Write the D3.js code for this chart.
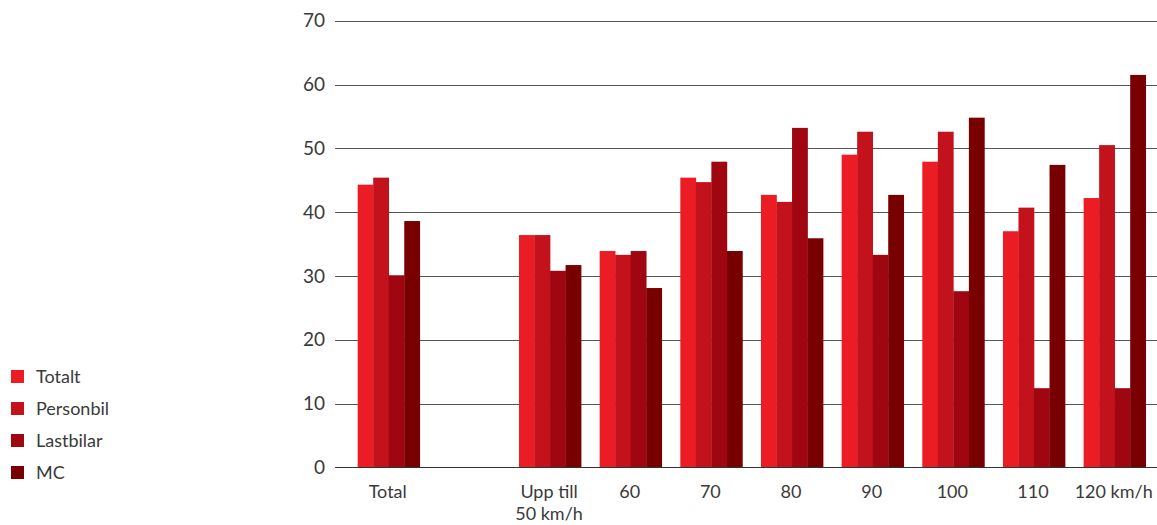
<!DOCTYPE html>
<html>
<head>
<meta charset="utf-8">
<script src="https://cdn.jsdelivr.net/npm/d3@7"></script>
<style>
  html, body { margin: 0; padding: 0; background: #fff; }
  svg text { font-family: Lato, "Open Sans", sans-serif; font-weight: 400; fill: #3a3a3a; }
</style>
</head>
<body>
<svg id="chart" width="1157" height="525"></svg>
<script>
// Categories (an empty slot separates the overall total from the speed limits)
const categories = ["Total", "", "Upp till\n50 km/h", "60", "70", "80", "90", "100", "110", "120 km/h"];
const seriesNames = ["Totalt", "Personbil", "Lastbilar", "MC"];
const colors = ["#ec1c24", "#c4121c", "#a00610", "#780000"];

// Values per series, one entry per category (null = no bar)
const totalt    = [44.3, null, 36.4, 33.9, 45.4, 42.7, 49.0, 47.9, 37.0, 42.2];
const personbil = [45.4, null, 36.4, 33.3, 44.7, 41.6, 52.6, 52.6, 40.7, 50.5];
const lastbilar = [30.1, null, 30.8, 33.9, 47.9, 53.2, 33.3, 27.6, 12.4, 12.4];
const mc        = [38.6, null, 31.7, 28.1, 33.9, 35.9, 42.7, 54.8, 47.4, 61.5];
const yTicks = [0, 10, 20, 30, 40, 50, 60, 70];

const series = [totalt, personbil, lastbilar, mc];

const svg = d3.select("#chart");

const y = d3.scaleLinear().domain([0, 70]).range([467.3, 20.7]);
const x = d3.scaleBand().domain(d3.range(categories.length))
  .range([348.4, 1155]).paddingInner(0.23).paddingOuter(0.115);
const xs = d3.scaleBand().domain(d3.range(seriesNames.length))
  .range([0, x.bandwidth()]);

// Horizontal gridlines
svg.append("g").selectAll("line").data(yTicks.filter(t => t > 0)).join("line")
  .attr("x1", 335).attr("x2", 1157)
  .attr("y1", d => Math.round(y(d)) + 0.5).attr("y2", d => Math.round(y(d)) + 0.5)
  .attr("stroke", "#555").attr("stroke-width", 1.2);

// Y tick labels
svg.append("g").selectAll("text").data(yTicks).join("text")
  .attr("x", 325).attr("y", d => y(d))
  .attr("dy", "0.35em")
  .attr("text-anchor", "end")
  .style("font-size", "19px")
  .text(d => d);

// Bars
const groups = svg.append("g").selectAll("g").data(series).join("g")
  .attr("fill", (d, i) => colors[i]);
groups.each(function(vals, si) {
  d3.select(this).selectAll("rect")
    .data(vals.map((v, ci) => ({ v, ci })).filter(d => d.v != null))
    .join("rect")
    .attr("x", d => x(d.ci) + xs(si))
    .attr("width", xs.bandwidth() + 0.3)
    .attr("y", d => y(d.v))
    .attr("height", d => y(0) - y(d.v));
});

// Baseline
svg.append("line")
  .attr("x1", 335).attr("x2", 1157)
  .attr("y1", Math.round(y(0)) + 0.5).attr("y2", Math.round(y(0)) + 0.5)
  .attr("stroke", "#333").attr("stroke-width", 1.2);

// Category labels
const catLabels = svg.append("g").selectAll("text").data(categories).join("text")
  .attr("x", (d, i) => x(i) + x.bandwidth() / 2)
  .attr("y", 498)
  .attr("text-anchor", "middle")
  .style("font-size", "18px");
catLabels.each(function(d) {
  const lines = d.split("\n");
  d3.select(this).selectAll("tspan").data(lines).join("tspan")
    .attr("x", d3.select(this).attr("x") - 1)
    .attr("dy", (l, i) => i === 0 ? 0 : 22)
    .text(l => l);
});

// Legend
const legend = svg.append("g").selectAll("g").data(seriesNames).join("g")
  .attr("transform", (d, i) => `translate(11, ${370 + i * 32})`);
legend.append("rect").attr("width", 13).attr("height", 13)
  .attr("fill", (d, i) => colors[i]);
legend.append("text").attr("x", 25).attr("y", 6.5).attr("dy", "0.35em")
  .style("font-size", "18px")
  .text(d => d);
</script>
</body>
</html>
